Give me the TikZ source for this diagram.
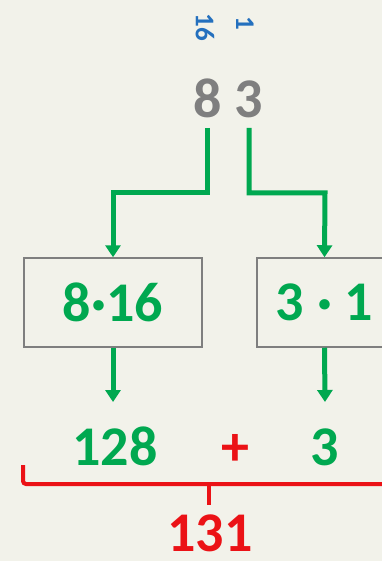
\documentclass[tikz,border=0pt]{standalone}
\usepackage{fontspec}
\setmainfont{Carlito}
\usetikzlibrary{arrows.meta}
\definecolor{bg}{RGB}{242,242,234}
\definecolor{mygreen}{RGB}{0,168,80}
\definecolor{myred}{RGB}{235,18,22}
\definecolor{myblue}{RGB}{36,112,190}
\definecolor{mygray}{RGB}{127,127,127}
\tikzset{
  big/.style={font=\fontsize{56}{60}\selectfont\bfseries, inner sep=0pt, anchor=base},
  place/.style={font=\fontsize{27}{30}\selectfont\bfseries, text=myblue, inner sep=0pt, rotate=-90},
  boxnode/.style={draw=mygray, line width=1.5pt, minimum height=89pt, inner sep=0pt, text=mygreen},
  garrow/.style={draw=mygreen, line width=5pt, -{Triangle[width=15pt,length=12pt]}},
  bracket/.style={draw=myred, line width=4pt, rounded corners=3pt}
}
\begin{document}
\begin{tikzpicture}[x=1pt,y=-1pt]
\fill[bg] (0,0) rectangle (382,561);
\useasboundingbox (0,0) rectangle (382,561);
% place values
\node[place] (p16) at (205,27) {16};
\node[place] (p1) at (245,23) {1};
% digits
\node[big, text=mygray] (n8) at (208,118) {8};
\node[big, text=mygray] (n3) at (249,118) {3};
% boxes
\node[boxnode, minimum width=178pt] (box1) at (113,302.5) {\fontsize{56}{60}\selectfont\bfseries 8·16};
\node[boxnode, minimum width=135pt] (box2) at (324.5,302.5) {\fontsize{56}{60}\selectfont\bfseries 3 · 1};
% results
\node[big, text=mygreen] (r128) at (115,465) {128};
\node[big, text=myred] (plus) at (235,465) {+};
\node[big, text=mygreen] (r3) at (324.5,465) {3};
\node[big, text=myred] (r131) at (210,551) {131};
% connectors
\coordinate (s8) at (207,128);
\coordinate (s3) at (249,128);
\coordinate (b1) at (113,193);
\coordinate (b2) at (325,193);
\draw[garrow] (s8) |- (b1) -- (box1.north);
\draw[garrow] (s3) |- (b2) -- (box2.north);
\coordinate (e1) at (113,402);
\coordinate (e2) at (325,402);
\draw[garrow] (box1.south) -- (e1);
\draw[garrow] (box2.south) -- (e2);
% bracket
\coordinate (bl) at (23,465);
\coordinate (bc) at (23,484);
\coordinate (br) at (390,484);
\coordinate (tm) at (209,484);
\coordinate (tb) at (209,505);
\draw[bracket] (bl) -- (bc) -- (br);
\draw[bracket] (tm) -- (tb);
\end{tikzpicture}
\end{document}
